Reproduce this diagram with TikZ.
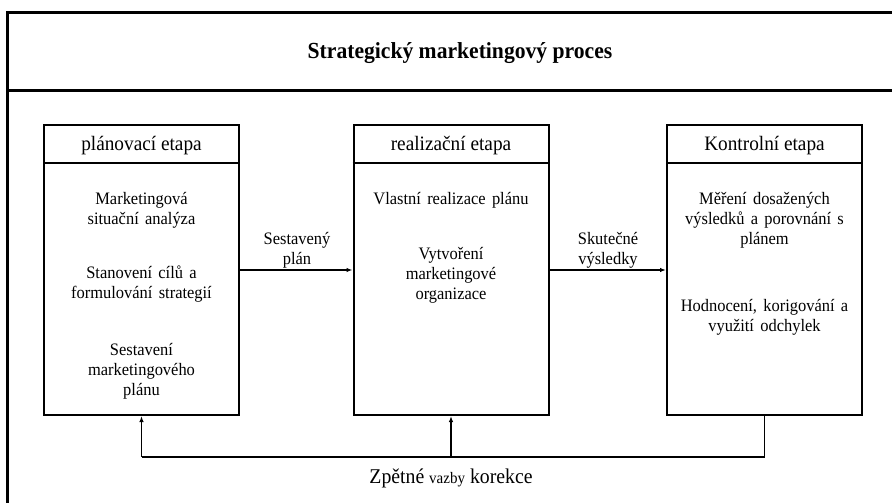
\documentclass[tikz,border=0pt]{standalone}
\usepackage{fontspec}
\setmainfont{Liberation Serif}[FakeStretch=0.94]
\usetikzlibrary{arrows.meta,calc}

\newcommand\stagebodyfont{\fontsize{17.5}{20}\selectfont\spaceskip=0.36em plus 0.1em\relax}

\tikzset{
  frameline/.style={line width=3pt, black},
  stagebox/.style={draw, line width=2pt, minimum width=195pt, minimum height=290pt, inner sep=0pt},
  headtext/.style={font=\fontsize{20.5}{23}\selectfont, inner sep=0pt},
  bodytext/.style={font=\stagebodyfont, align=center, inner sep=0pt},
  flowarrow/.style={line width=1.2pt, -{Latex[length=6pt,width=4.5pt]}},
  fbline/.style={line width=1.2pt},
}

\begin{document}
\begin{tikzpicture}[x=1pt,y=-1pt]
\useasboundingbox (0,0) rectangle (892,503);
\clip (0,0) rectangle (892,503);

% outer frame with title band
\draw[frameline] (7.5,520) -- (7.5,12.5) -- (920,12.5);
\draw[frameline] (7.5,90.5) -- (920,90.5);
\node[font=\bfseries\fontsize{23}{26}\selectfont, inner sep=0pt] (title) at (460,53) {Strategický marketingový proces};

% the three stages
\node[stagebox] (plan) at (141.5,270) {};
\node[stagebox] (real) at (451,270) {};
\node[stagebox] (ctrl) at (764.5,270) {};

\foreach \s in {plan,real,ctrl}
  \draw[line width=2pt] ([yshift=-39pt]\s.north west) -- ([yshift=-39pt]\s.north east);

\node[headtext] (planh) at (141.5,146) {plánovací etapa};
\node[headtext] (realh) at (451,146) {realizační etapa};
\node[headtext] (ctrlh) at (764.5,146) {Kontrolní etapa};

% stage contents
\node[bodytext] (p1) at (141.5,210) {Marketingová\\situační analýza};
\node[bodytext] (p2) at (141.5,284) {Stanovení cílů a\\formulování strategií};
\node[bodytext] (p3) at (141.5,371) {Sestavení\\marketingového\\plánu};

\node[bodytext] (r1) at (451,200) {Vlastní realizace plánu};
\node[bodytext] (r2) at (451,275) {Vytvoření\\marketingové\\organizace};

\node[bodytext] (c1) at (764.5,220) {Měření dosažených\\výsledků a porovnání s\\plánem};
\node[bodytext] (c2) at (764.5,317) {Hodnocení, korigování a\\využití odchylek};

% forward flow
\draw[flowarrow] (plan.east) -- (real.west);
\draw[flowarrow] (real.east) -- (ctrl.west);
\node[bodytext] (l1) at (297,250) {Sestavený\\plán};
\node[bodytext] (l2) at (608,250) {Skutečné\\výsledky};

% feedback loop
\coordinate (fbrow) at (0,457);
\draw[fbline] (ctrl.south) -- (ctrl.south |- fbrow) -- (plan.south |- fbrow);
\draw[flowarrow] (plan.south |- fbrow) -- (plan.south);
\draw[flowarrow] (real.south |- fbrow) -- (real.south);
\node[font=\fontsize{21}{24}\selectfont, inner sep=0pt, anchor=base] (fb) at (451,483)
  {Zpětné {\fontsize{16}{18}\selectfont vazby} korekce};
\end{tikzpicture}
\end{document}
